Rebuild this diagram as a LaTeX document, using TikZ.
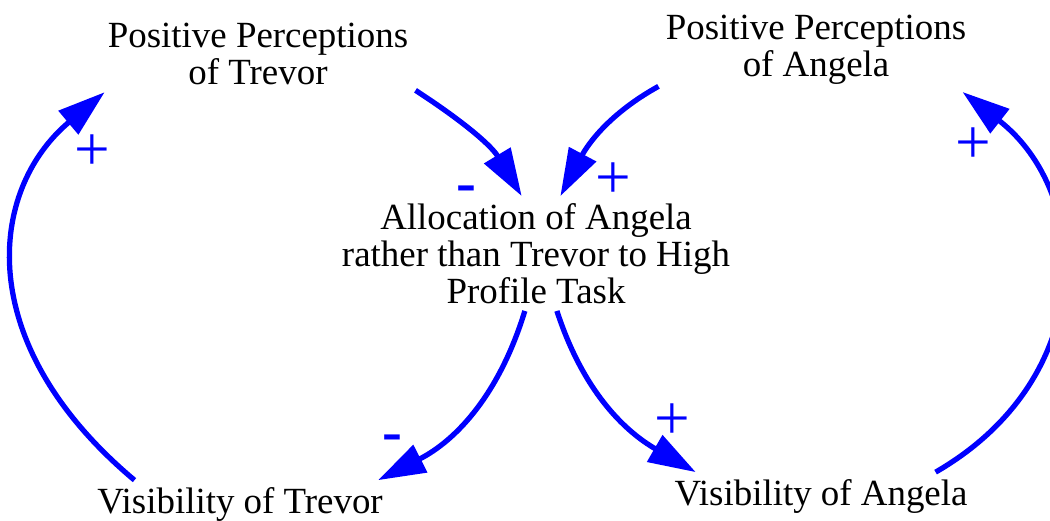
\documentclass[tikz,border=0pt]{standalone}
\usepackage{fontspec}
\setmainfont{Liberation Serif}
\usetikzlibrary{arrows.meta}

\begin{document}
\begin{tikzpicture}[x=0.02cm, y=0.02cm,
    var/.style={align=center, inner sep=4pt, font=\fontsize{21}{21}\selectfont},
    link/.style={blue, line width=3pt, -{Triangle[length=27pt,width=17pt]}},
    sgnplus/.style={blue, inner sep=0pt, font=\fontsize{36}{36}\selectfont},
    sgnminus/.style={blue, inner sep=0pt, font=\fontsize{34}{34}\selectfont\bfseries}]
    \clip (0,0) rectangle (1050,520);

    % Variablen
    \node[var] (ppt) at (258,466) {Positive Perceptions\\of Trevor};
    \node[var] (ppa) at (816,470) {Positive Perceptions\\of Angela};
    \node[var] (alloc) at (536,266.5) {Allocation of Angela\\rather than Trevor to High\\Profile Task};
    \node[var] (vt) at (240,15.5) {Visibility of Trevor};
    \node[var] (va) at (821,23.5) {Visibility of Angela};

    % Wirkungen auf die Zuteilung
    \draw[link] (ppt.-13) to[out=-33, in=121] (alloc.104);
    \draw[link] (ppa.193) to[out=-151, in=62] (alloc.67);

    % Wirkungen auf die Sichtbarkeit
    \draw[link] (alloc.-101) to[out=-107, in=27] (vt.10.6);
    \draw[link] (alloc.-70.5) to[out=-72, in=150] (va.169);

    % Rueckkopplungen
    \draw[link] (vt.167) to[out=140, in=-140, out distance=4.25cm, in distance=3.05cm] (ppt.194);
    \draw[link] (va.12) to[out=30, in=-38, out distance=3.76cm, in distance=3.31cm] (ppa.-16);

    % Polaritaeten
    \node[sgnminus] (s-ppt) at (466,326) {-};
    \node[sgnplus] (s-ppa) at (613,339) {+};
    \node[sgnminus] (s-vt) at (392,77) {-};
    \node[sgnplus] (s-va) at (672,98) {+};
    \node[sgnplus] (s-lt) at (92,367) {+};
    \node[sgnplus] (s-ra) at (973,374) {+};
\end{tikzpicture}
\end{document}
